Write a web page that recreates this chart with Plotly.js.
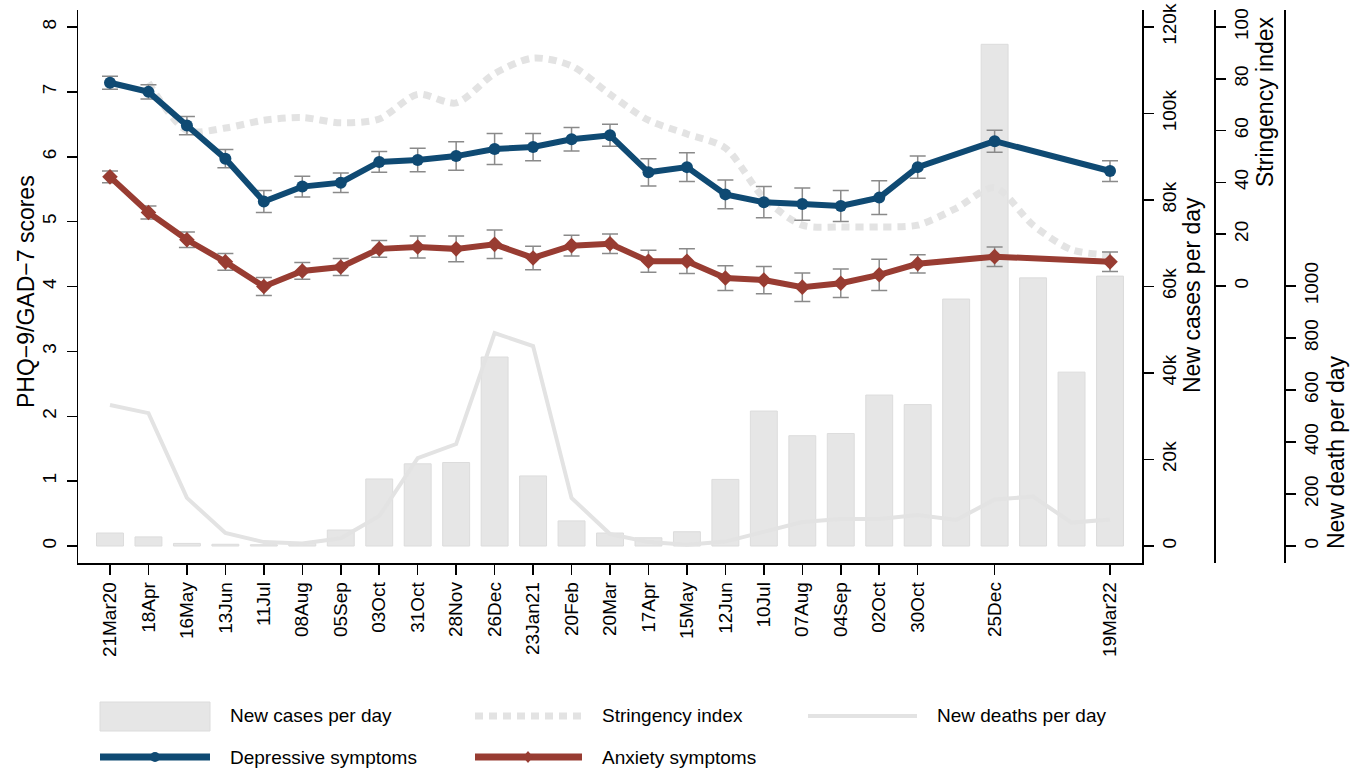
<!DOCTYPE html>
<html>
<head>
<meta charset="utf-8">
<script src="https://cdn.plot.ly/plotly-3.0.1.min.js"></script>
<style>html,body{margin:0;padding:0;background:#fff;}#chart{width:1362px;height:770px;}</style>
</head>
<body>
<div id="chart"></div>
<script>
// ---- data ----
const weekDates = ['2020-03-21','2020-04-18','2020-05-16','2020-06-13','2020-07-11','2020-08-08','2020-09-05','2020-10-03','2020-10-31','2020-11-28','2020-12-26','2021-01-23','2021-02-20','2021-03-20','2021-04-17','2021-05-15','2021-06-12','2021-07-10','2021-08-07','2021-09-04','2021-10-02','2021-10-30','2021-11-27','2021-12-25','2022-01-22','2022-02-19','2022-03-19'];
const newCases = [3000,2100,600,400,300,600,3700,15500,19000,19300,43700,16200,5800,3000,1900,3300,15400,31200,25500,26000,34900,32700,57100,116000,62000,40200,62400];
const newDeaths = [542,511,185,50,15,10,30,115,338,392,819,769,185,46,15,5,17,56,92,104,104,119,100,179,190,90,102];
const stringency = [null,78.5,60,61,64,65,63,64.5,74,70.7,82,88,85,74,64,58.7,53.3,34,23.5,22.8,22.8,23.5,30,38,23.5,14,12];

const surveyDates = ['2020-03-21','2020-04-18','2020-05-16','2020-06-13','2020-07-11','2020-08-08','2020-09-05','2020-10-03','2020-10-31','2020-11-28','2020-12-26','2021-01-23','2021-02-20','2021-03-20','2021-04-17','2021-05-15','2021-06-12','2021-07-10','2021-08-07','2021-09-04','2021-10-02','2021-10-30','2021-12-25','2022-03-19'];
const tickLabels = ['21Mar20','18Apr','16May','13Jun','11Jul','08Aug','05Sep','03Oct','31Oct','28Nov','26Dec','23Jan21','20Feb','20Mar','17Apr','15May','12Jun','10Jul','07Aug','04Sep','02Oct','30Oct','25Dec','19Mar22'];
const depression = [7.14,7.00,6.48,5.97,5.31,5.54,5.60,5.92,5.95,6.01,6.12,6.15,6.27,6.33,5.76,5.84,5.42,5.30,5.27,5.24,5.37,5.84,6.24,5.78];
const depressionErr = [0.10,0.11,0.14,0.14,0.17,0.16,0.15,0.16,0.18,0.22,0.24,0.21,0.18,0.17,0.21,0.22,0.22,0.24,0.25,0.24,0.26,0.17,0.17,0.16];
const anxiety = [5.69,5.14,4.72,4.38,4.00,4.24,4.30,4.58,4.61,4.58,4.65,4.44,4.63,4.66,4.39,4.39,4.13,4.10,3.99,4.05,4.18,4.35,4.46,4.38];
const anxietyErr = [0.09,0.10,0.12,0.13,0.14,0.13,0.13,0.13,0.17,0.20,0.22,0.18,0.16,0.15,0.17,0.19,0.19,0.21,0.22,0.22,0.24,0.14,0.15,0.15];

const scoreTicks = [0,1,2,3,4,5,6,7,8];
const caseTicks = [0,20000,40000,60000,80000,100000,120000];
const caseTickText = ['0','20k','40k','60k','80k','100k','120k'];
const stringencyTicks = [0,20,40,60,80,100];
const deathTicks = [0,200,400,600,800,1000];

// ---- layout helpers (pixel -> paper) ----
const L = 78, R = 20, T = 10, B = 207, W = 1362, H = 770;
const PW = W - L - R, PH = H - T - B;
const px = v => (v - L) / PW;
const py = v => (H - B - v) / PH;

const FONT = 'Liberation Sans, Arial, Helvetica, sans-serif';
const GRAY = '#e3e3e3';
const BLUE = '#0f4a73';
const RED = '#983c32';

const DAY = 86400000;

const traces = [
  {type:'bar', x:weekDates, y:newCases, yaxis:'y', width:19.6*DAY,
   marker:{color:'#e6e6e6', line:{color:'#dcdcdc', width:1}}, showlegend:false, hoverinfo:'skip'},
  {type:'scatter', mode:'lines', x:weekDates, y:newDeaths, yaxis:'y2',
   line:{color:GRAY, width:4}, showlegend:false},
  {type:'scatter', mode:'lines', x:weekDates, y:stringency, yaxis:'y3', connectgaps:false,
   line:{color:GRAY, width:7, dash:'8px,6px', shape:'spline', smoothing:0.8}, showlegend:false},
  {type:'scatter', mode:'lines+markers', x:surveyDates, y:depression, yaxis:'y4',
   line:{color:BLUE, width:6}, marker:{symbol:'circle', size:12, color:BLUE},
   error_y:{type:'data', array:depressionErr, color:'#8a8a8a', thickness:1.5, width:8},
   showlegend:false},
  {type:'scatter', mode:'lines+markers', x:surveyDates, y:anxiety, yaxis:'y4',
   line:{color:RED, width:6}, marker:{symbol:'diamond', size:12, color:RED},
   error_y:{type:'data', array:anxietyErr, color:'#8a8a8a', thickness:1.5, width:8},
   showlegend:false}
];

const tickFont = {family:FONT, size:19, color:'#000'};
const axisCommon = {showgrid:false, zeroline:false, showline:true, linecolor:'#000', linewidth:1.5,
  ticks:'outside', ticklen:10, tickwidth:1.5, tickcolor:'#000', tickfont:tickFont, tickangle:-90, fixedrange:true};

const layout = {
  width:W, height:H, margin:{l:L, r:R, t:T, b:B},
  paper_bgcolor:'#fff', plot_bgcolor:'rgba(0,0,0,0)',
  font:{family:FONT, color:'#000'},
  showlegend:false, bargap:0,
  xaxis: Object.assign({}, axisCommon, {
    type:'date', domain:[0, px(1142)], range:['2020-02-26 17:00','2022-04-11 07:00'],
    tickmode:'array', tickvals:surveyDates, ticktext:tickLabels, anchor:'y'
  }),
  yaxis: Object.assign({}, axisCommon, {
    side:'right', anchor:'x', range:[-3930,123930], tickmode:'array', tickvals:caseTicks, ticktext:caseTickText
  }),
  yaxis2: Object.assign({}, axisCommon, {
    overlaying:'y', side:'right', anchor:'free', position:px(1284), range:[-65.4,2061.5],
    tickmode:'array', tickvals:deathTicks
  }),
  yaxis3: Object.assign({}, axisCommon, {
    overlaying:'y', side:'right', anchor:'free', position:px(1214), range:[-106.95,106.56],
    tickmode:'array', tickvals:stringencyTicks
  }),
  yaxis4: Object.assign({}, axisCommon, {
    overlaying:'y', side:'left', anchor:'x', range:[-0.262,8.262],
    tickmode:'array', tickvals:scoreTicks, ticklabelstandoff:3
  }),
  annotations: [],
  shapes: []
};

const titleFont = {family:FONT, size:23, color:'#000'};
function vtitle(text, x, y){
  layout.annotations.push({text:text, xref:'paper', yref:'paper', x:px(x), y:py(y), textangle:-90,
    showarrow:false, xanchor:'center', yanchor:'middle', font:titleFont});
}
vtitle('PHQ\u22129/GAD\u22127 scores', 26, 292);
vtitle('New cases per day', 1192, 295);
vtitle('Stringency index', 1265, 102);
vtitle('New death per day', 1336, 452);

// legend (drawn)
const legFont = {family:FONT, size:19, color:'#000'};
function legText(text, x, y){
  layout.annotations.push({text:text, xref:'paper', yref:'paper', x:px(x), y:py(y), showarrow:false,
    xanchor:'left', yanchor:'middle', font:legFont});
}
function legLine(x0, x1, y, color, width, dash){
  layout.shapes.push({type:'line', xref:'paper', yref:'paper', x0:px(x0), x1:px(x1), y0:py(y), y1:py(y),
    line:{color:color, width:width, dash:dash||'solid'}});
}
layout.shapes.push({type:'rect', xref:'paper', yref:'paper', x0:px(100), x1:px(210), y0:py(731), y1:py(702),
  fillcolor:'#e6e6e6', line:{color:'#dcdcdc', width:1}});
legText('New cases per day', 228, 716);
legLine(475, 582, 716, GRAY, 7, '8px,6px');
legText('Stringency index', 600, 716);
legLine(808, 917, 716, GRAY, 4);
legText('New deaths per day', 935, 716);
legLine(100, 210, 757, BLUE, 7);
layout.shapes.push({type:'circle', xref:'paper', yref:'paper', x0:px(150), x1:px(160), y0:py(762), y1:py(752),
  fillcolor:BLUE, line:{color:BLUE, width:0}});
legText('Depressive symptoms', 228, 757);
legLine(475, 582, 757, RED, 7);
layout.shapes.push({type:'path', xref:'paper', yref:'paper',
  path:'M'+px(528)+','+py(751)+' L'+px(533)+','+py(757)+' L'+px(528)+','+py(763)+' L'+px(523)+','+py(757)+' Z',
  fillcolor:RED, line:{color:RED, width:0}});
legText('Anxiety symptoms', 600, 757);

Plotly.newPlot('chart', traces, layout, {displayModeBar:false, staticPlot:true});
</script>
</body>
</html>
